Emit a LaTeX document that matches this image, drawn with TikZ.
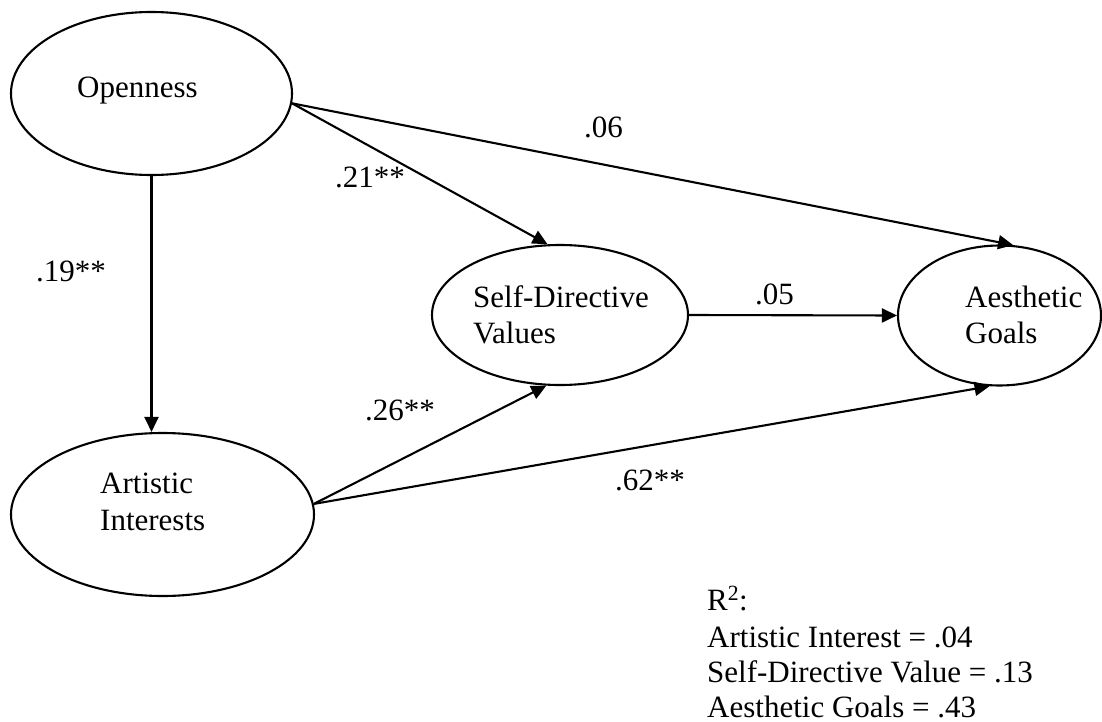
\documentclass[tikz,border=0pt]{standalone}
\usepackage{fontspec}
\setmainfont{Liberation Serif}
\usetikzlibrary{shapes.geometric,arrows.meta}

\begin{document}
\begin{tikzpicture}[x=1pt,y=-1pt,
  latent/.style={ellipse,draw,line width=2.1pt,inner sep=0pt},
  txt/.style={anchor=base west,inner sep=0pt,font=\fontsize{31}{36}\selectfont},
  path/.style={line width=2.1pt,-{Triangle[length=15pt,width=14pt]}}]
  \useasboundingbox (0,0) rectangle (1102,722);

  % latent variables
  \node[latent,minimum width=281pt,minimum height=163pt] (open) at (151.5,93.5) {};
  \node[latent,minimum width=303pt,minimum height=163pt] (art)  at (162.5,514.5) {};
  \node[latent,minimum width=256pt,minimum height=140pt] (sdv)  at (560,315) {};
  \node[latent,minimum width=203pt,minimum height=140pt] (aes)  at (999.5,315.5) {};

  % variable names
  \node[txt] (open-t)  at (77,98)   {Openness};
  \node[txt] (art-t1)  at (100,493) {Artistic};
  \node[txt] (art-t2)  at (100,530) {Interests};
  \node[txt] (sdv-t1)  at (473,307) {Self-Directive};
  \node[txt] (sdv-t2)  at (473,343) {Values};
  \node[txt] (aes-t1)  at (965,307) {Aesthetic};
  \node[txt] (aes-t2)  at (965,343) {Goals};

  % structural paths
  \draw[path] (open.south) -- (open.south |- art.north);
  \draw[path] (open.-4.7) -- (sdv.100.5);
  \draw[path] (open.-4.7) -- (aes.79.2);
  \draw[path] (sdv.east) -- (aes.west);
  \draw[path] (art.4.7) -- (sdv.259.5);
  \draw[path] (art.4.7) -- (aes.262.3);

  % path coefficients
  \node[txt] (c06) at (584,138) {.06};
  \node[txt] (c21) at (335,187) {.21**};
  \node[txt] (c19) at (36,281)  {.19**};
  \node[txt] (c05) at (755,304) {.05};
  \node[txt] (c26) at (365,420) {.26**};
  \node[txt] (c62) at (615,490) {.62**};

  % explained variance
  \node[txt] (r2)   at (707,610) {R\textsuperscript{2}:};
  \node[txt] (r2a)  at (707,647) {Artistic Interest = .04};
  \node[txt] (r2b)  at (707,682) {Self-Directive Value = .13};
  \node[txt] (r2c)  at (707,717) {Aesthetic Goals = .43};
\end{tikzpicture}
\end{document}
